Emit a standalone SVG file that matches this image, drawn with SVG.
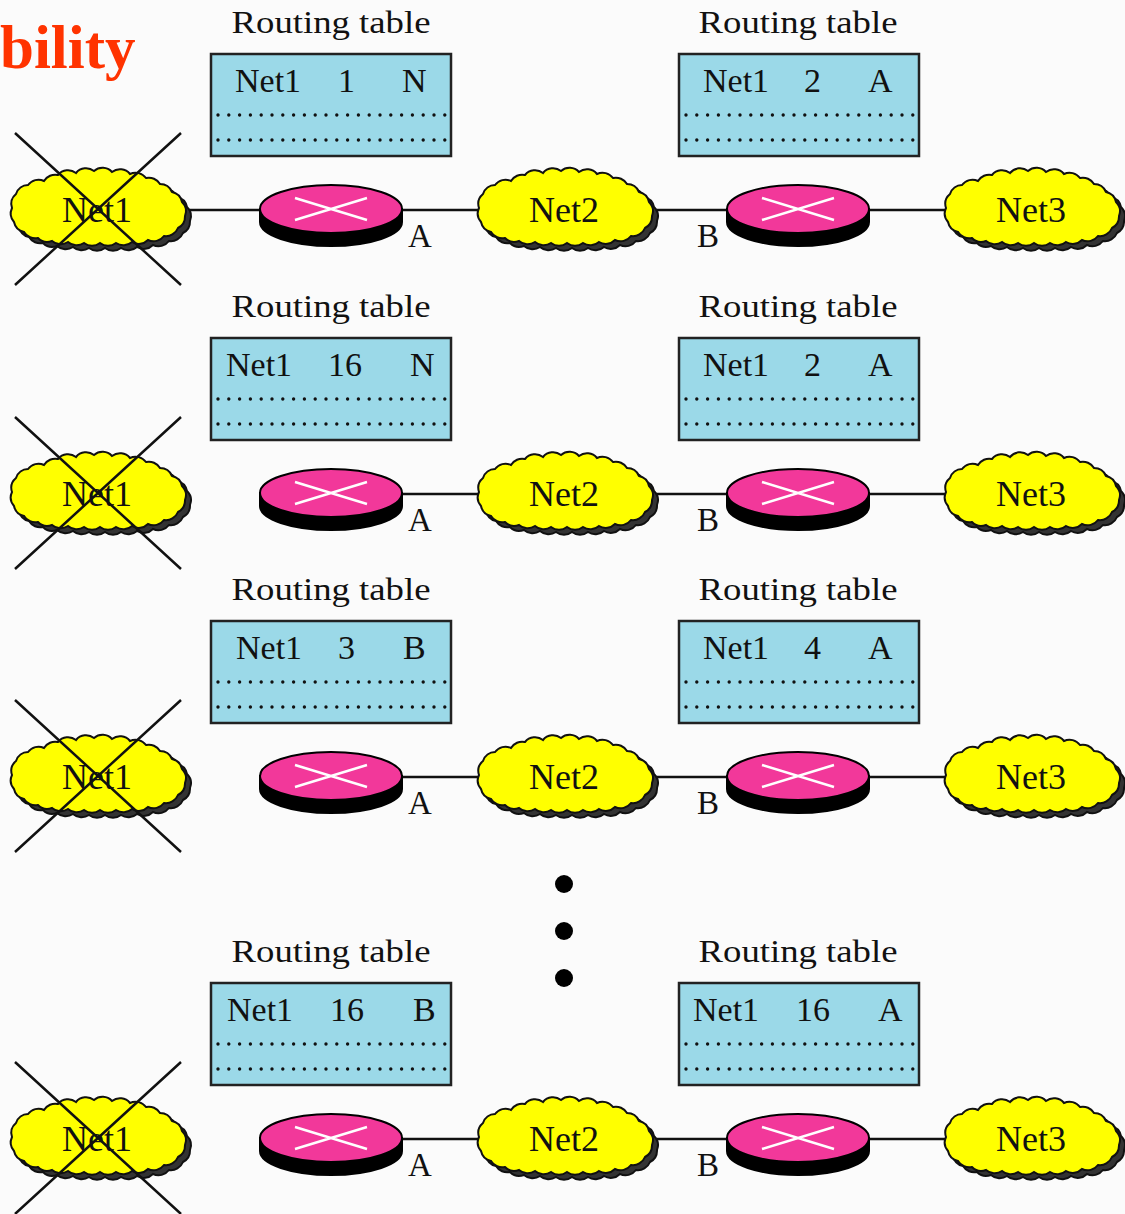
<svg xmlns="http://www.w3.org/2000/svg" xmlns:xlink="http://www.w3.org/1999/xlink" width="1125" height="1214" viewBox="0 0 1125 1214">
  <style>
    .lbl { font-family: "Liberation Serif", "Times New Roman", serif; fill: #111; }
    .title { font-size: 32px; text-anchor: middle; }
    .cell { font-size: 34px; }
    .net { font-size: 36px; text-anchor: middle; }
    .port { font-size: 33px; }
    .tbl { fill: #9bd9e8; stroke: #222; stroke-width: 2.5; }
    .dots { stroke: #111; stroke-width: 3.4; stroke-linecap: round; stroke-dasharray: 0 10.8; fill: none; }
    .link { stroke: #111; stroke-width: 2.5; fill: none; }
    .cross { stroke: #111; stroke-width: 2.5; fill: none; }
    .shade { fill: #333; stroke: #111; stroke-width: 2; }
    .cloud { fill: #ffff00; stroke: #111; stroke-width: 2; }
    .heading { font-family: "Liberation Serif", "Times New Roman", serif; font-weight: bold; font-size: 61px; fill: #ff3300; }
  </style>
  <defs>
    <!-- bumpy cloud outline, centred on its own origin -->
    <path id="cloudShape" d="M -86 0 A 13 13 0 0 1 -82 -14 A 13 13 0 0 1 -70 -23 A 13 13 0 0 1 -54 -27 A 13 13 0 0 1 -40 -33 A 13 13 0 0 1 -22 -35 A 13 13 0 0 1 -4 -37 A 13 13 0 0 1 14 -36 A 13 13 0 0 1 32 -34 A 13 13 0 0 1 48 -30 A 13 13 0 0 1 62 -24 A 13 13 0 0 1 74 -16 A 13 13 0 0 1 84 -6 A 13 13 0 0 1 87 8 A 13 13 0 0 1 80 20 A 13 13 0 0 1 66 28 A 13 13 0 0 1 50 32 A 13 13 0 0 1 34 34 A 13 13 0 0 1 18 35 A 13 13 0 0 1 2 35 A 13 13 0 0 1 -14 35 A 13 13 0 0 1 -30 34 A 13 13 0 0 1 -46 33 A 13 13 0 0 1 -60 30 A 13 13 0 0 1 -74 24 A 13 13 0 0 1 -84 14 A 13 13 0 0 1 -86 0 Z"/>
    <g id="cloudIcon">
      <use xlink:href="#cloudShape" href="#cloudShape" class="shade" transform="translate(5,5)"/>
      <use xlink:href="#cloudShape" href="#cloudShape" class="cloud"/>
    </g>
    <!-- router disc: dark base, pink top, white cross -->
    <g id="routerIcon">
      <path d="M -71 0 V 13 A 71 24 0 0 0 71 13 V 0 Z" fill="#000" stroke="#000" stroke-width="2"/>
      <ellipse cx="0" cy="0" rx="71" ry="24" fill="#f2389a" stroke="#000" stroke-width="2"/>
      <path d="M -36 -11 L 36 11 M -36 11 L 36 -11" stroke="#fff" stroke-width="2.5" fill="none"/>
    </g>
    <g id="tableBox">
      <rect x="0" y="0" width="240" height="102" class="tbl"/>
      <line x1="7" y1="61" x2="234" y2="61" class="dots"/>
      <line x1="7" y1="86" x2="234" y2="86" class="dots"/>
    </g>
  </defs>

  <rect x="0" y="0" width="1125" height="1214" fill="#fbfbfb"/>

  <text class="heading" x="0" y="68">bility</text>

  <!-- connectors -->
  <g id="connectors">
    <line class="link" x1="186" y1="210" x2="261" y2="210"/>
    <line class="link" x1="401" y1="210" x2="480" y2="210"/>
    <line class="link" x1="652" y1="210" x2="728" y2="210"/>
    <line class="link" x1="868" y1="210" x2="947" y2="210"/>

    <line class="link" x1="401" y1="494" x2="480" y2="494"/>
    <line class="link" x1="652" y1="494" x2="728" y2="494"/>
    <line class="link" x1="868" y1="494" x2="947" y2="494"/>

    <line class="link" x1="401" y1="777" x2="480" y2="777"/>
    <line class="link" x1="652" y1="777" x2="728" y2="777"/>
    <line class="link" x1="868" y1="777" x2="947" y2="777"/>

    <line class="link" x1="401" y1="1139" x2="480" y2="1139"/>
    <line class="link" x1="652" y1="1139" x2="728" y2="1139"/>
    <line class="link" x1="868" y1="1139" x2="947" y2="1139"/>
  </g>

  <!-- stage 1 -->
  <g id="stage1">
    <g id="s1-table-a">
      <text class="lbl title" x="331" y="33" textLength="199" lengthAdjust="spacingAndGlyphs">Routing table</text>
      <use xlink:href="#tableBox" href="#tableBox" x="211" y="54"/>
      <text class="lbl cell" x="235" y="92">Net1</text>
      <text class="lbl cell" x="338" y="92">1</text>
      <text class="lbl cell" x="402" y="92">N</text>
    </g>
    <g id="s1-table-b">
      <text class="lbl title" x="798" y="33" textLength="199" lengthAdjust="spacingAndGlyphs">Routing table</text>
      <use xlink:href="#tableBox" href="#tableBox" x="679" y="54"/>
      <text class="lbl cell" x="703" y="92">Net1</text>
      <text class="lbl cell" x="804" y="92">2</text>
      <text class="lbl cell" x="868" y="92">A</text>
    </g>
    <g id="s1-net1">
      <use xlink:href="#cloudIcon" href="#cloudIcon" x="98" y="208"/>
      <text class="lbl net" x="97" y="222">Net1</text>
      <path class="cross" d="M 15 133 L 181 285 M 181 133 L 15 285"/>
    </g>
    <g id="s1-router-a">
      <use xlink:href="#routerIcon" href="#routerIcon" x="331" y="209"/>
      <text class="lbl port" x="408" y="247">A</text>
    </g>
    <g id="s1-net2">
      <use xlink:href="#cloudIcon" href="#cloudIcon" x="565" y="208"/>
      <text class="lbl net" x="564" y="222">Net2</text>
    </g>
    <g id="s1-router-b">
      <use xlink:href="#routerIcon" href="#routerIcon" x="798" y="209"/>
      <text class="lbl port" x="697" y="247">B</text>
    </g>
    <g id="s1-net3">
      <use xlink:href="#cloudIcon" href="#cloudIcon" x="1032" y="208"/>
      <text class="lbl net" x="1031" y="222">Net3</text>
    </g>
  </g>

  <!-- stage 2 -->
  <g id="stage2" transform="translate(0,284)">
    <g id="s2-table-a">
      <text class="lbl title" x="331" y="33" textLength="199" lengthAdjust="spacingAndGlyphs">Routing table</text>
      <use xlink:href="#tableBox" href="#tableBox" x="211" y="54"/>
      <text class="lbl cell" x="226" y="92">Net1</text>
      <text class="lbl cell" x="328" y="92">16</text>
      <text class="lbl cell" x="410" y="92">N</text>
    </g>
    <g id="s2-table-b">
      <text class="lbl title" x="798" y="33" textLength="199" lengthAdjust="spacingAndGlyphs">Routing table</text>
      <use xlink:href="#tableBox" href="#tableBox" x="679" y="54"/>
      <text class="lbl cell" x="703" y="92">Net1</text>
      <text class="lbl cell" x="804" y="92">2</text>
      <text class="lbl cell" x="868" y="92">A</text>
    </g>
    <g id="s2-net1">
      <use xlink:href="#cloudIcon" href="#cloudIcon" x="98" y="208"/>
      <text class="lbl net" x="97" y="222">Net1</text>
      <path class="cross" d="M 15 133 L 181 285 M 181 133 L 15 285"/>
    </g>
    <g id="s2-router-a">
      <use xlink:href="#routerIcon" href="#routerIcon" x="331" y="209"/>
      <text class="lbl port" x="408" y="247">A</text>
    </g>
    <g id="s2-net2">
      <use xlink:href="#cloudIcon" href="#cloudIcon" x="565" y="208"/>
      <text class="lbl net" x="564" y="222">Net2</text>
    </g>
    <g id="s2-router-b">
      <use xlink:href="#routerIcon" href="#routerIcon" x="798" y="209"/>
      <text class="lbl port" x="697" y="247">B</text>
    </g>
    <g id="s2-net3">
      <use xlink:href="#cloudIcon" href="#cloudIcon" x="1032" y="208"/>
      <text class="lbl net" x="1031" y="222">Net3</text>
    </g>
  </g>

  <!-- stage 3 -->
  <g id="stage3" transform="translate(0,567)">
    <g id="s3-table-a">
      <text class="lbl title" x="331" y="33" textLength="199" lengthAdjust="spacingAndGlyphs">Routing table</text>
      <use xlink:href="#tableBox" href="#tableBox" x="211" y="54"/>
      <text class="lbl cell" x="236" y="92">Net1</text>
      <text class="lbl cell" x="338" y="92">3</text>
      <text class="lbl cell" x="403" y="92">B</text>
    </g>
    <g id="s3-table-b">
      <text class="lbl title" x="798" y="33" textLength="199" lengthAdjust="spacingAndGlyphs">Routing table</text>
      <use xlink:href="#tableBox" href="#tableBox" x="679" y="54"/>
      <text class="lbl cell" x="703" y="92">Net1</text>
      <text class="lbl cell" x="804" y="92">4</text>
      <text class="lbl cell" x="868" y="92">A</text>
    </g>
    <g id="s3-net1">
      <use xlink:href="#cloudIcon" href="#cloudIcon" x="98" y="208"/>
      <text class="lbl net" x="97" y="222">Net1</text>
      <path class="cross" d="M 15 133 L 181 285 M 181 133 L 15 285"/>
    </g>
    <g id="s3-router-a">
      <use xlink:href="#routerIcon" href="#routerIcon" x="331" y="209"/>
      <text class="lbl port" x="408" y="247">A</text>
    </g>
    <g id="s3-net2">
      <use xlink:href="#cloudIcon" href="#cloudIcon" x="565" y="208"/>
      <text class="lbl net" x="564" y="222">Net2</text>
    </g>
    <g id="s3-router-b">
      <use xlink:href="#routerIcon" href="#routerIcon" x="798" y="209"/>
      <text class="lbl port" x="697" y="247">B</text>
    </g>
    <g id="s3-net3">
      <use xlink:href="#cloudIcon" href="#cloudIcon" x="1032" y="208"/>
      <text class="lbl net" x="1031" y="222">Net3</text>
    </g>
  </g>

  <!-- ellipsis between stages -->
  <g id="ellipsis" fill="#000">
    <circle cx="564" cy="884" r="9"/>
    <circle cx="564" cy="931" r="9"/>
    <circle cx="564" cy="978" r="9"/>
  </g>

  <!-- final stage -->
  <g id="stage4" transform="translate(0,929)">
    <g id="s4-table-a">
      <text class="lbl title" x="331" y="33" textLength="199" lengthAdjust="spacingAndGlyphs">Routing table</text>
      <use xlink:href="#tableBox" href="#tableBox" x="211" y="54"/>
      <text class="lbl cell" x="227" y="92">Net1</text>
      <text class="lbl cell" x="330" y="92">16</text>
      <text class="lbl cell" x="413" y="92">B</text>
    </g>
    <g id="s4-table-b">
      <text class="lbl title" x="798" y="33" textLength="199" lengthAdjust="spacingAndGlyphs">Routing table</text>
      <use xlink:href="#tableBox" href="#tableBox" x="679" y="54"/>
      <text class="lbl cell" x="693" y="92">Net1</text>
      <text class="lbl cell" x="796" y="92">16</text>
      <text class="lbl cell" x="878" y="92">A</text>
    </g>
    <g id="s4-net1">
      <use xlink:href="#cloudIcon" href="#cloudIcon" x="98" y="208"/>
      <text class="lbl net" x="97" y="222">Net1</text>
      <path class="cross" d="M 15 133 L 181 285 M 181 133 L 15 285"/>
    </g>
    <g id="s4-router-a">
      <use xlink:href="#routerIcon" href="#routerIcon" x="331" y="209"/>
      <text class="lbl port" x="408" y="247">A</text>
    </g>
    <g id="s4-net2">
      <use xlink:href="#cloudIcon" href="#cloudIcon" x="565" y="208"/>
      <text class="lbl net" x="564" y="222">Net2</text>
    </g>
    <g id="s4-router-b">
      <use xlink:href="#routerIcon" href="#routerIcon" x="798" y="209"/>
      <text class="lbl port" x="697" y="247">B</text>
    </g>
    <g id="s4-net3">
      <use xlink:href="#cloudIcon" href="#cloudIcon" x="1032" y="208"/>
      <text class="lbl net" x="1031" y="222">Net3</text>
    </g>
  </g>
</svg>
